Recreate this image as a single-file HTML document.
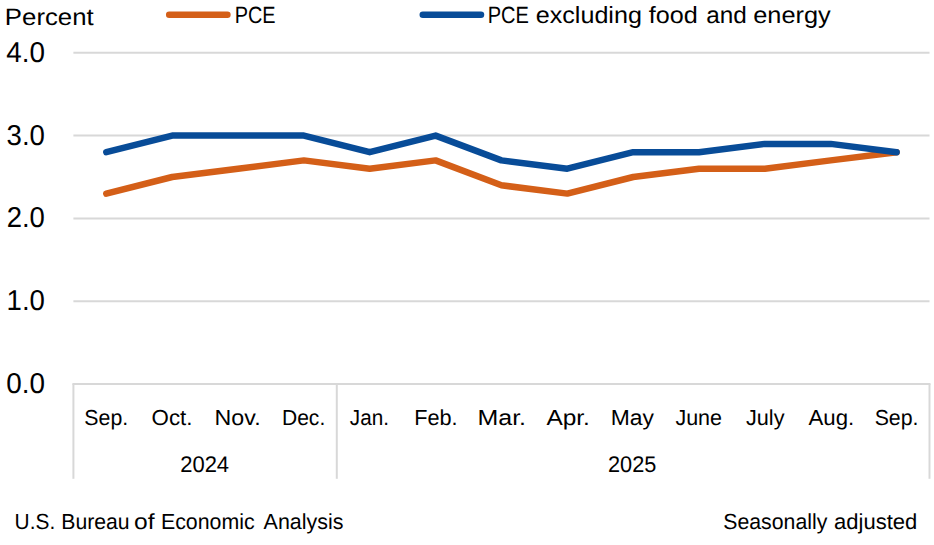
<!DOCTYPE html>
<html><head><meta charset="utf-8"><title>PCE price index</title>
<style>html,body{margin:0;padding:0;background:#fff;}svg{display:block;}</style></head>
<body>
<svg width="934" height="545" viewBox="0 0 934 545">
<rect width="934" height="545" fill="#fff"/>
<g stroke="#d8d8d8" stroke-width="2" fill="none">
<line x1="73.4" x2="929.5" y1="301.2" y2="301.2"/>
<line x1="73.4" x2="929.5" y1="218.4" y2="218.4"/>
<line x1="73.4" x2="929.5" y1="135.6" y2="135.6"/>
<line x1="73.4" x2="929.5" y1="52.8" y2="52.8"/>
<line x1="72.4" x2="930.5" y1="384.04" y2="384.04"/>
<line x1="73.4" x2="73.4" y1="384.04" y2="478.8"/>
<line x1="336.8" x2="336.8" y1="384.04" y2="478.8"/>
<line x1="929.5" x2="929.5" y1="384.04" y2="478.8"/>
</g>
<g fill="none" stroke-width="6.5" stroke-linecap="round" stroke-linejoin="round">
<polyline stroke="#d45f18" points="106.3,193.6 172.2,177.0 238.0,168.7 303.9,160.4 369.7,168.7 435.6,160.4 501.4,185.3 567.3,193.6 633.2,177.0 699.0,168.7 764.9,168.7 830.7,160.4 896.6,152.2"/>
<polyline stroke="#084c98" points="106.3,152.2 172.2,135.6 238.0,135.6 303.9,135.6 369.7,152.2 435.6,135.6 501.4,160.4 567.3,168.7 633.2,152.2 699.0,152.2 764.9,143.9 830.7,143.9 896.6,152.2"/>
<line stroke="#d45f18" x1="169.2" x2="227.4" y1="14.7" y2="14.7"/>
<line stroke="#084c98" x1="422.8" x2="481.0" y1="14.7" y2="14.7"/>
</g>
<g font-family="'Liberation Sans', sans-serif" fill="#000" text-rendering="geometricPrecision">
<text transform="translate(4.87 24.90) scale(1.0961 1)" font-size="23.50">Percent</text>
<text transform="translate(6.26 61.70) scale(0.9685 1)" font-size="28.71">4.0</text>
<text transform="translate(6.53 144.50) scale(0.9614 1)" font-size="28.71">3.0</text>
<text transform="translate(6.69 227.35) scale(0.9574 1)" font-size="28.71">2.0</text>
<text transform="translate(6.57 310.20) scale(0.9604 1)" font-size="28.71">1.0</text>
<text transform="translate(6.29 393.00) scale(0.9701 1)" font-size="28.71">0.0</text>
<text transform="translate(234.63 23.20) scale(0.8455 1)" font-size="23.50">PCE</text>
<text transform="translate(487.72 23.20) scale(0.8521 1)" font-size="23.50">PCE</text>
<text transform="translate(535.73 23.20) scale(1.0694 1)" font-size="23.50">excluding</text>
<text transform="translate(648.79 23.20) scale(1.0727 1)" font-size="23.50">food</text>
<text transform="translate(706.32 23.20) scale(1.0344 1)" font-size="23.50">and</text>
<text transform="translate(753.22 23.20) scale(1.0779 1)" font-size="23.50">energy</text>
<text transform="translate(84.35 424.60) scale(0.9822 1)" font-size="21.70">Sep.</text>
<text transform="translate(151.57 424.60) scale(1.0270 1)" font-size="21.70">Oct.</text>
<text transform="translate(214.61 424.60) scale(1.0704 1)" font-size="21.70">Nov.</text>
<text transform="translate(281.99 424.60) scale(0.9695 1)" font-size="21.70">Dec.</text>
<text transform="translate(349.82 424.60) scale(0.9538 1)" font-size="21.70">Jan.</text>
<text transform="translate(414.14 424.60) scale(0.9993 1)" font-size="21.70">Feb.</text>
<text transform="translate(477.47 424.60) scale(1.1520 1)" font-size="21.70">Mar.</text>
<text transform="translate(546.44 424.60) scale(1.1269 1)" font-size="21.70">Apr.</text>
<text transform="translate(610.64 424.60) scale(1.0551 1)" font-size="21.70">May</text>
<text transform="translate(675.40 424.60) scale(0.9916 1)" font-size="21.70">June</text>
<text transform="translate(746.00 424.60) scale(0.9976 1)" font-size="21.70">July</text>
<text transform="translate(808.47 424.60) scale(1.0238 1)" font-size="21.70">Aug.</text>
<text transform="translate(874.65 424.60) scale(0.9822 1)" font-size="21.70">Sep.</text>
<text transform="translate(180.21 471.70) scale(0.9736 1)" font-size="22.57">2024</text>
<text transform="translate(608.03 471.70) scale(0.9632 1)" font-size="22.57">2025</text>
<text transform="translate(14.58 529.30) scale(0.9582 1)" font-size="21.80">U.S.</text>
<text transform="translate(61.28 529.30) scale(0.9725 1)" font-size="21.80">Bureau</text>
<text transform="translate(134.04 529.30) scale(1.1267 1)" font-size="21.80">of</text>
<text transform="translate(160.97 529.30) scale(0.9781 1)" font-size="21.80">Economic</text>
<text transform="translate(263.59 529.30) scale(0.9838 1)" font-size="21.80">Analysis</text>
<text transform="translate(723.26 528.90) scale(0.9756 1)" font-size="21.80">Seasonally</text>
<text transform="translate(834.04 528.90) scale(1.0101 1)" font-size="21.80">adjusted</text>
</g></svg>
</body></html>
